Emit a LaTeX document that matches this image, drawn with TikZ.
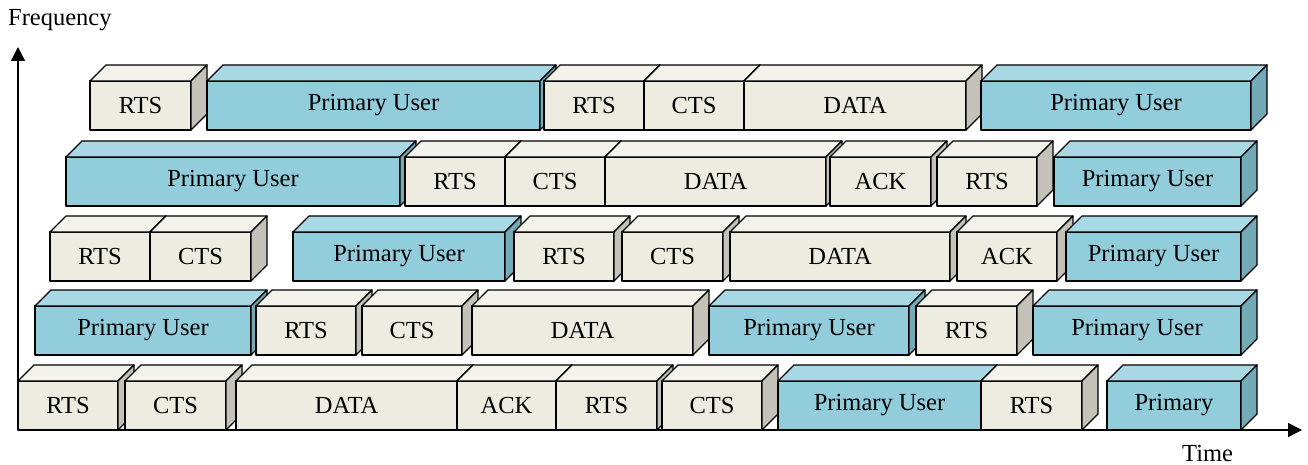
\documentclass[tikz,border=0pt]{standalone}
\usepackage{fontspec}
\setmainfont{Liberation Serif}
\usepackage{tikz}
\usetikzlibrary{arrows.meta, calc}

\definecolor{ctlfront}{HTML}{EEECE1}
\definecolor{ctltopc}{HTML}{F3F2EB}
\definecolor{ctlside}{HTML}{C4C2B8}
\definecolor{pufront}{HTML}{92CDDC}
\definecolor{putopc}{HTML}{A8D8E4}
\definecolor{puside}{HTML}{74A9B6}

\tikzset{
  slotbase/.style={draw, line width=1.3pt, line join=round, minimum height=49pt,
    inner sep=0pt, outer sep=0pt, font=\fontsize{24.5}{28}\selectfont},
  ctl/.style={slotbase, fill=ctlfront},
  pu/.style={slotbase, fill=pufront},
  ctltop/.style={draw, line width=1.3pt, line join=round, fill=ctltopc},
  ctlsd/.style={draw, line width=1.3pt, line join=round, fill=ctlside},
  putop/.style={draw, line width=1.3pt, line join=round, fill=putopc},
  pusd/.style={draw, line width=1.3pt, line join=round, fill=puside},
  axis/.style={line width=1.3pt, -{Triangle[length=14pt,width=14pt]}}
}

% #1 name, #2 left, #3 right, #4 top of the front, #5 ctl/pu, #6 text
\newcommand{\tslot}[6]{%
  \node[#5, minimum width={(#3-#2)*1pt}, anchor=north west] (#1) at (#2,#4) {#6};
  \path[#5top] (#1.north west) -- ++(16pt,16pt) -- ([shift={(16pt,16pt)}]#1.north east)
    -- (#1.north east) -- cycle;
  \path[#5sd] (#1.north east) -- ++(16pt,16pt) -- ([shift={(16pt,16pt)}]#1.south east)
    -- (#1.south east) -- cycle;
}

\begin{document}
\begin{tikzpicture}[x=1pt, y=-1pt]
        \useasboundingbox (0,0) rectangle (1308,465);

        \coordinate (O) at (18,430);
        \coordinate (F) at (18,47);
        \coordinate (T) at (1302,430);
        \draw[axis] (O) -- (F);
        \draw[axis] (O) -- (T);
        \node[anchor=base west, inner sep=0pt, font=\fontsize{24.5}{28}\selectfont] (freq) at (8,26) {Frequency};
        \node[anchor=base west, inner sep=0pt, font=\fontsize{24.5}{28}\selectfont] (time) at (1182,461) {Time};

        \tslot{a1}{90}{191}{81}{ctl}{RTS}
        \tslot{a2}{207}{540}{81}{pu}{Primary User}
        \tslot{a3}{544}{644}{81}{ctl}{RTS}
        \tslot{a4}{644}{744}{81}{ctl}{CTS}
        \tslot{a5}{744}{966}{81}{ctl}{DATA}
        \tslot{a6}{981}{1251}{81}{pu}{Primary User}

        \tslot{b1}{66}{400}{157}{pu}{Primary User}
        \tslot{b2}{405}{505}{157}{ctl}{RTS}
        \tslot{b3}{505}{605}{157}{ctl}{CTS}
        \tslot{b4}{605}{826}{157}{ctl}{DATA}
        \tslot{b5}{830}{931}{157}{ctl}{ACK}
        \tslot{b6}{937}{1037}{157}{ctl}{RTS}
        \tslot{b7}{1054}{1241}{157}{pu}{Primary User}

        \tslot{c1}{50}{150}{232}{ctl}{RTS}
        \tslot{c2}{150}{251}{232}{ctl}{CTS}
        \tslot{c3}{293}{505}{232}{pu}{Primary User}
        \tslot{c4}{514}{614}{232}{ctl}{RTS}
        \tslot{c5}{622}{723}{232}{ctl}{CTS}
        \tslot{c6}{730}{950}{232}{ctl}{DATA}
        \tslot{c7}{957}{1057}{232}{ctl}{ACK}
        \tslot{c8}{1066}{1241}{232}{pu}{Primary User}

        \tslot{d1}{35}{251}{306}{pu}{Primary User}
        \tslot{d2}{256}{356}{306}{ctl}{RTS}
        \tslot{d3}{362}{462}{306}{ctl}{CTS}
        \tslot{d4}{472}{693}{306}{ctl}{DATA}
        \tslot{d5}{709}{909}{306}{pu}{Primary User}
        \tslot{d6}{916}{1017}{306}{ctl}{RTS}
        \tslot{d7}{1033}{1241}{306}{pu}{Primary User}

        \tslot{e1}{18}{118}{381}{ctl}{RTS}
        \tslot{e2}{125}{226}{381}{ctl}{CTS}
        \tslot{e3}{236}{457}{381}{ctl}{DATA}
        \tslot{e4}{457}{556}{381}{ctl}{ACK}
        \tslot{e5}{556}{657}{381}{ctl}{RTS}
        \tslot{e6}{662}{762}{381}{ctl}{CTS}
        \tslot{e7}{778}{981}{381}{pu}{Primary User}
        \tslot{e8}{981}{1082}{381}{ctl}{RTS}
        \tslot{e9}{1107}{1241}{381}{pu}{Primary}
    \end{tikzpicture}
\end{document}
